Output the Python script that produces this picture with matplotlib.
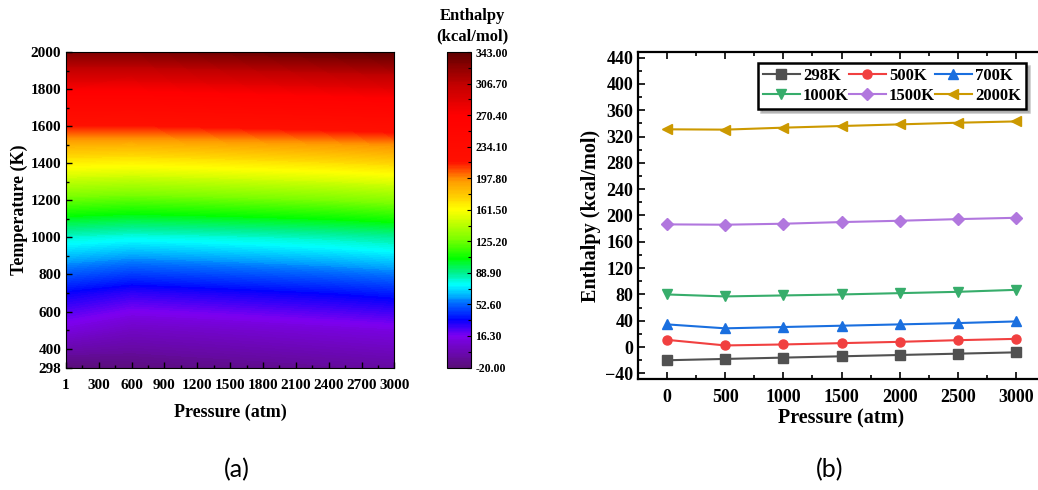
import numpy as np
import matplotlib
matplotlib.use("Agg")
import matplotlib.pyplot as plt
from matplotlib.colors import LinearSegmentedColormap
from matplotlib.ticker import MultipleLocator, FixedLocator

plt.rcParams['font.family'] = 'Liberation Serif'
plt.rcParams['font.weight'] = 'bold'
plt.rcParams['axes.labelweight'] = 'bold'

# ---- data: line plot (b) ----
pressure = [0, 500, 1000, 1500, 2000, 2500, 3000]
h_298 = [-20, -18, -16, -14, -12, -10, -8]
h_500 = [11, 2.5, 4, 6, 8, 10.5, 12.5]
h_700 = [34.5, 28.5, 30.5, 32.5, 34.5, 36.5, 39]
h_1000 = [80, 77, 78.5, 80, 82, 84, 87]
h_1500 = [186.5, 186, 187.5, 190, 192, 194.5, 196.5]
h_2000 = [331, 330.5, 333.5, 336, 338.5, 341, 343]
labels = ["298K", "500K", "700K", "1000K", "1500K", "2000K"]

# ---- data: contour map (a) ----
map_pressure = [1, 600, 1200, 1800, 2400, 3000]
map_temperature = [298, 500, 700, 1000, 1500, 2000]
map_h_298 = [-20, -17.5, -15, -13, -10.5, -8]
map_h_500 = [11, 3, 5, 7.5, 10, 12.5]
map_h_700 = [34, 28, 30.5, 33, 35.5, 39]
map_h_1000 = [80, 77, 78.5, 80.5, 83, 86.5]
map_h_1500 = [187, 186, 188, 190.5, 193, 196.5]
map_h_2000 = [331, 330.5, 334, 337, 340, 343]

cbar_ticks = [-20.0, 16.3, 52.6, 88.9, 125.2, 161.5, 197.8, 234.1, 270.4, 306.7, 343.0]

W, H = 1038, 490
fig = plt.figure(figsize=(W / 100, H / 100), dpi=100)


def rect(l, t, r, b):
    return [l / W, 1 - b / H, (r - l) / W, (b - t) / H]


# rainbow palette like Origin
stops = [(0.0, "#5a0e7a"), (0.10, "#7d00f0"), (0.15, "#0000ff"), (0.20, "#0068ff"),
         (0.26, "#00ffff"), (0.30, "#00f090"), (0.345, "#00ff00"), (0.40, "#70ff00"),
         (0.50, "#ffff00"), (0.60, "#ff9000"), (0.65, "#ff1000"), (0.80, "#ff0000"),
         (0.90, "#c00000"), (1.0, "#600000")]
cmap = LinearSegmentedColormap.from_list("origin_rainbow", stops)

ax1 = fig.add_axes(rect(66, 52, 394.5, 367.5))
Z = np.array([map_h_298, map_h_500, map_h_700, map_h_1000, map_h_1500, map_h_2000])
levels = np.linspace(-20, 343, 241)
cs = ax1.contourf(map_pressure, map_temperature, Z, levels=levels, cmap=cmap,
                  vmin=-20, vmax=343, antialiased=False)
ax1.set_xlim(1, 3000)
ax1.set_ylim(298, 2000)
ax1.set_xticks([1, 300, 600, 900, 1200, 1500, 1800, 2100, 2400, 2700, 3000])
ax1.xaxis.set_minor_locator(FixedLocator(np.arange(150, 3000, 300)))
ax1.set_yticks([298, 400, 600, 800, 1000, 1200, 1400, 1600, 1800, 2000])
ax1.yaxis.set_minor_locator(FixedLocator(np.arange(500, 2000, 200)))
ax1.tick_params(which='both', direction='in', labelsize=11, width=1)
ax1.tick_params(which='major', length=4)
ax1.tick_params(which='minor', length=2.5)
ax1.tick_params(axis='x', pad=8)
ax1.set_xlabel("Pressure (atm)", fontsize=13, labelpad=9)
ax1.set_ylabel("Temperature (K)", fontsize=13, labelpad=2)
for s in ax1.spines.values():
    s.set_linewidth(0.8)

cax = fig.add_axes(rect(447, 52, 471, 367.5))
cb = fig.colorbar(cs, cax=cax, ticks=cbar_ticks)
cb.ax.set_yticklabels(["%.2f" % t for t in cbar_ticks])
cb.ax.yaxis.set_minor_locator(FixedLocator(np.array(cbar_ticks[:-1]) + 18.15))
cb.ax.tick_params(which='both', direction='in', labelsize=8.5, width=0.8, pad=3)
cb.ax.tick_params(which='major', length=3)
cb.ax.tick_params(which='minor', length=2)
cb.outline.set_linewidth(0.8)
fig.text(472 / W, 1 - 16 / H, "Enthalpy", ha='center', va='center', fontsize=12, weight='bold')
fig.text(472 / W, 1 - 36 / H, "(kcal/mol)", ha='center', va='center', fontsize=12, weight='bold')

# ---- right panel ----
ax2 = fig.add_axes(rect(638, 52, 1045, 379))
colors = ['#515151', '#F14040', '#1A6FDF', '#37AD6B', '#B177DE', '#CC9900']
markers = ['s', 'o', '^', 'v', 'D', '<']
series = [h_298, h_500, h_700, h_1000, h_1500, h_2000]
lines = []
for y, c, m, lab in zip(series, colors, markers, labels):
    ln, = ax2.plot(pressure, y, color=c, marker=m, markersize=6.5 if m != 'D' else 6,
                   linewidth=1.5, label=lab)
    lines.append(ln)
ax2.set_xlim(-250, 3250)
ax2.set_ylim(-48.5, 448.5)
ax2.set_xticks(pressure)
ax2.xaxis.set_minor_locator(MultipleLocator(250))
ax2.set_yticks(np.arange(-40, 441, 40))
ax2.yaxis.set_minor_locator(MultipleLocator(20))
ax2.tick_params(which='both', direction='in', labelsize=13, width=1.2, top=True)
ax2.tick_params(which='major', length=5)
ax2.tick_params(which='minor', length=3)
ax2.tick_params(axis='x', pad=7)
ax2.set_xlabel("Pressure (atm)", fontsize=14.5, labelpad=2)
ax2.set_ylabel("Enthalpy (kcal/mol)", fontsize=14.5, labelpad=3)
for s in ax2.spines.values():
    s.set_linewidth(1.6)
ax2.spines['right'].set_visible(False)

# row-wise legend order (matplotlib fills columns first)
order = [0, 3, 1, 4, 2, 5]
leg = ax2.legend([lines[i] for i in order], [labels[i] for i in order],
                 ncol=3, loc='upper right', bbox_to_anchor=(1026 / W, 1 - 63 / H),
                 bbox_transform=fig.transFigure, fontsize=12, frameon=True,
                 fancybox=False, shadow={'color': '0.55'}, edgecolor='black',
                 handlelength=2.2, handletextpad=0.2, columnspacing=0.0,
                 labelspacing=0.25, borderpad=0.3, borderaxespad=0)
leg.get_frame().set_linewidth(1.8)
leg.get_frame().set_alpha(1)

fig.text(237 / W, 1 - 470 / H, "(a)", ha='center', va='center', fontsize=18,
         family='Lato', weight='normal')
fig.text(830 / W, 1 - 470 / H, "(b)", ha='center', va='center', fontsize=18,
         family='Lato', weight='normal')

fig.savefig("out.png", dpi=100)
